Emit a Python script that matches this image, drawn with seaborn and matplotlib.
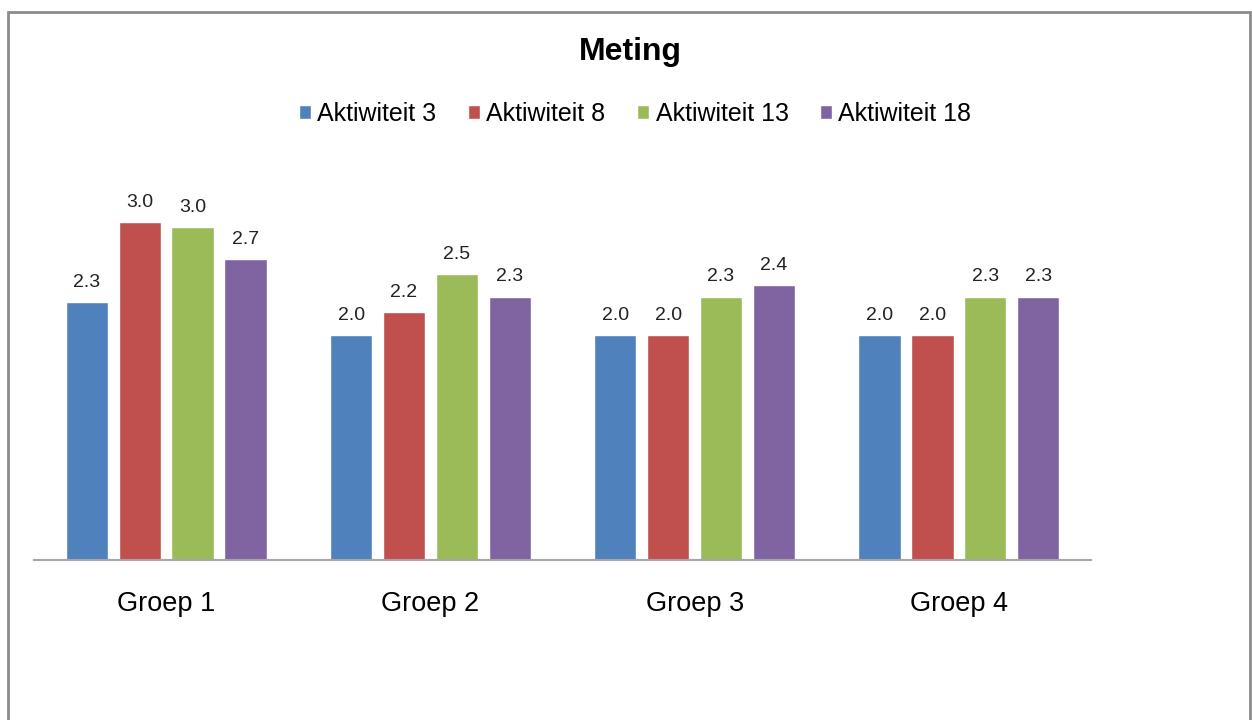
import pandas as pd
import matplotlib.pyplot as plt
import seaborn as sns
from matplotlib.patches import Rectangle

# Values
groups = ["Groep 1", "Groep 2", "Groep 3", "Groep 4"]
series = ["Aktiwiteit 3", "Aktiwiteit 8", "Aktiwiteit 13", "Aktiwiteit 18"]
akt_3 = [2.29, 2.0, 2.0, 2.0]
akt_8 = [3.0, 2.2, 2.0, 2.0]
akt_13 = [2.96, 2.54, 2.34, 2.34]
akt_18 = [2.67, 2.34, 2.44, 2.34]

COLORS = ["#4F81BD", "#C0504D", "#9BBB59", "#8064A2"]

rows = []
for name, vals in zip(series, [akt_3, akt_8, akt_13, akt_18]):
    for g, v in zip(groups, vals):
        rows.append({"Groep": g, "Serie": name, "Waarde": v})
df = pd.DataFrame(rows)

sns.set_theme(style="white")
plt.rcParams["font.family"] = ["Liberation Sans", "DejaVu Sans"]

fig = plt.figure(figsize=(12.52, 7.2), dpi=100)
ax = fig.add_axes([34 / 1252, 1 - 560 / 720, (1091 - 34) / 1252, (560 - 166) / 720])

sns.barplot(data=df, x="Groep", y="Waarde", hue="Serie", hue_order=series,
            order=groups, palette=COLORS, gap=0.2, saturation=1,
            errorbar=None, ax=ax)

for cont in ax.containers:
    ax.bar_label(cont, fmt="%.1f", padding=8, fontsize=14, color="#222222")

ax.set_ylim(0, 3.5)
ax.set_xlim(-0.5, 3.5)
ax.set_xlabel("")
ax.set_ylabel("")
ax.set_yticks([])
ax.tick_params(axis="x", length=0, pad=22, labelsize=19.5, labelcolor="black")
for side in ["top", "left", "right"]:
    ax.spines[side].set_visible(False)
ax.spines["bottom"].set_color("#A6A6A6")
ax.spines["bottom"].set_linewidth(1.5)

handles, labels = ax.get_legend_handles_labels()
ax.get_legend().remove()
fig.legend(handles, labels, loc="center", bbox_to_anchor=(635 / 1252, 1 - 114 / 720),
           ncol=4, frameon=False, fontsize=18, handlelength=0.5, handleheight=0.5,
           handletextpad=0.25, columnspacing=1.25, labelcolor="black")

fig.text(630 / 1252, 1 - 52 / 720, "Meting", ha="center", va="center",
         fontsize=23, fontweight="bold", color="black")

# outer chart frame
fig.patches.append(Rectangle((8 / 1252, -0.05), 1242 / 1252, 1.05 - 12 / 720,
                             transform=fig.transFigure, fill=False,
                             edgecolor="#8C8C8C", linewidth=2))

fig.savefig("out.png", dpi=100)
